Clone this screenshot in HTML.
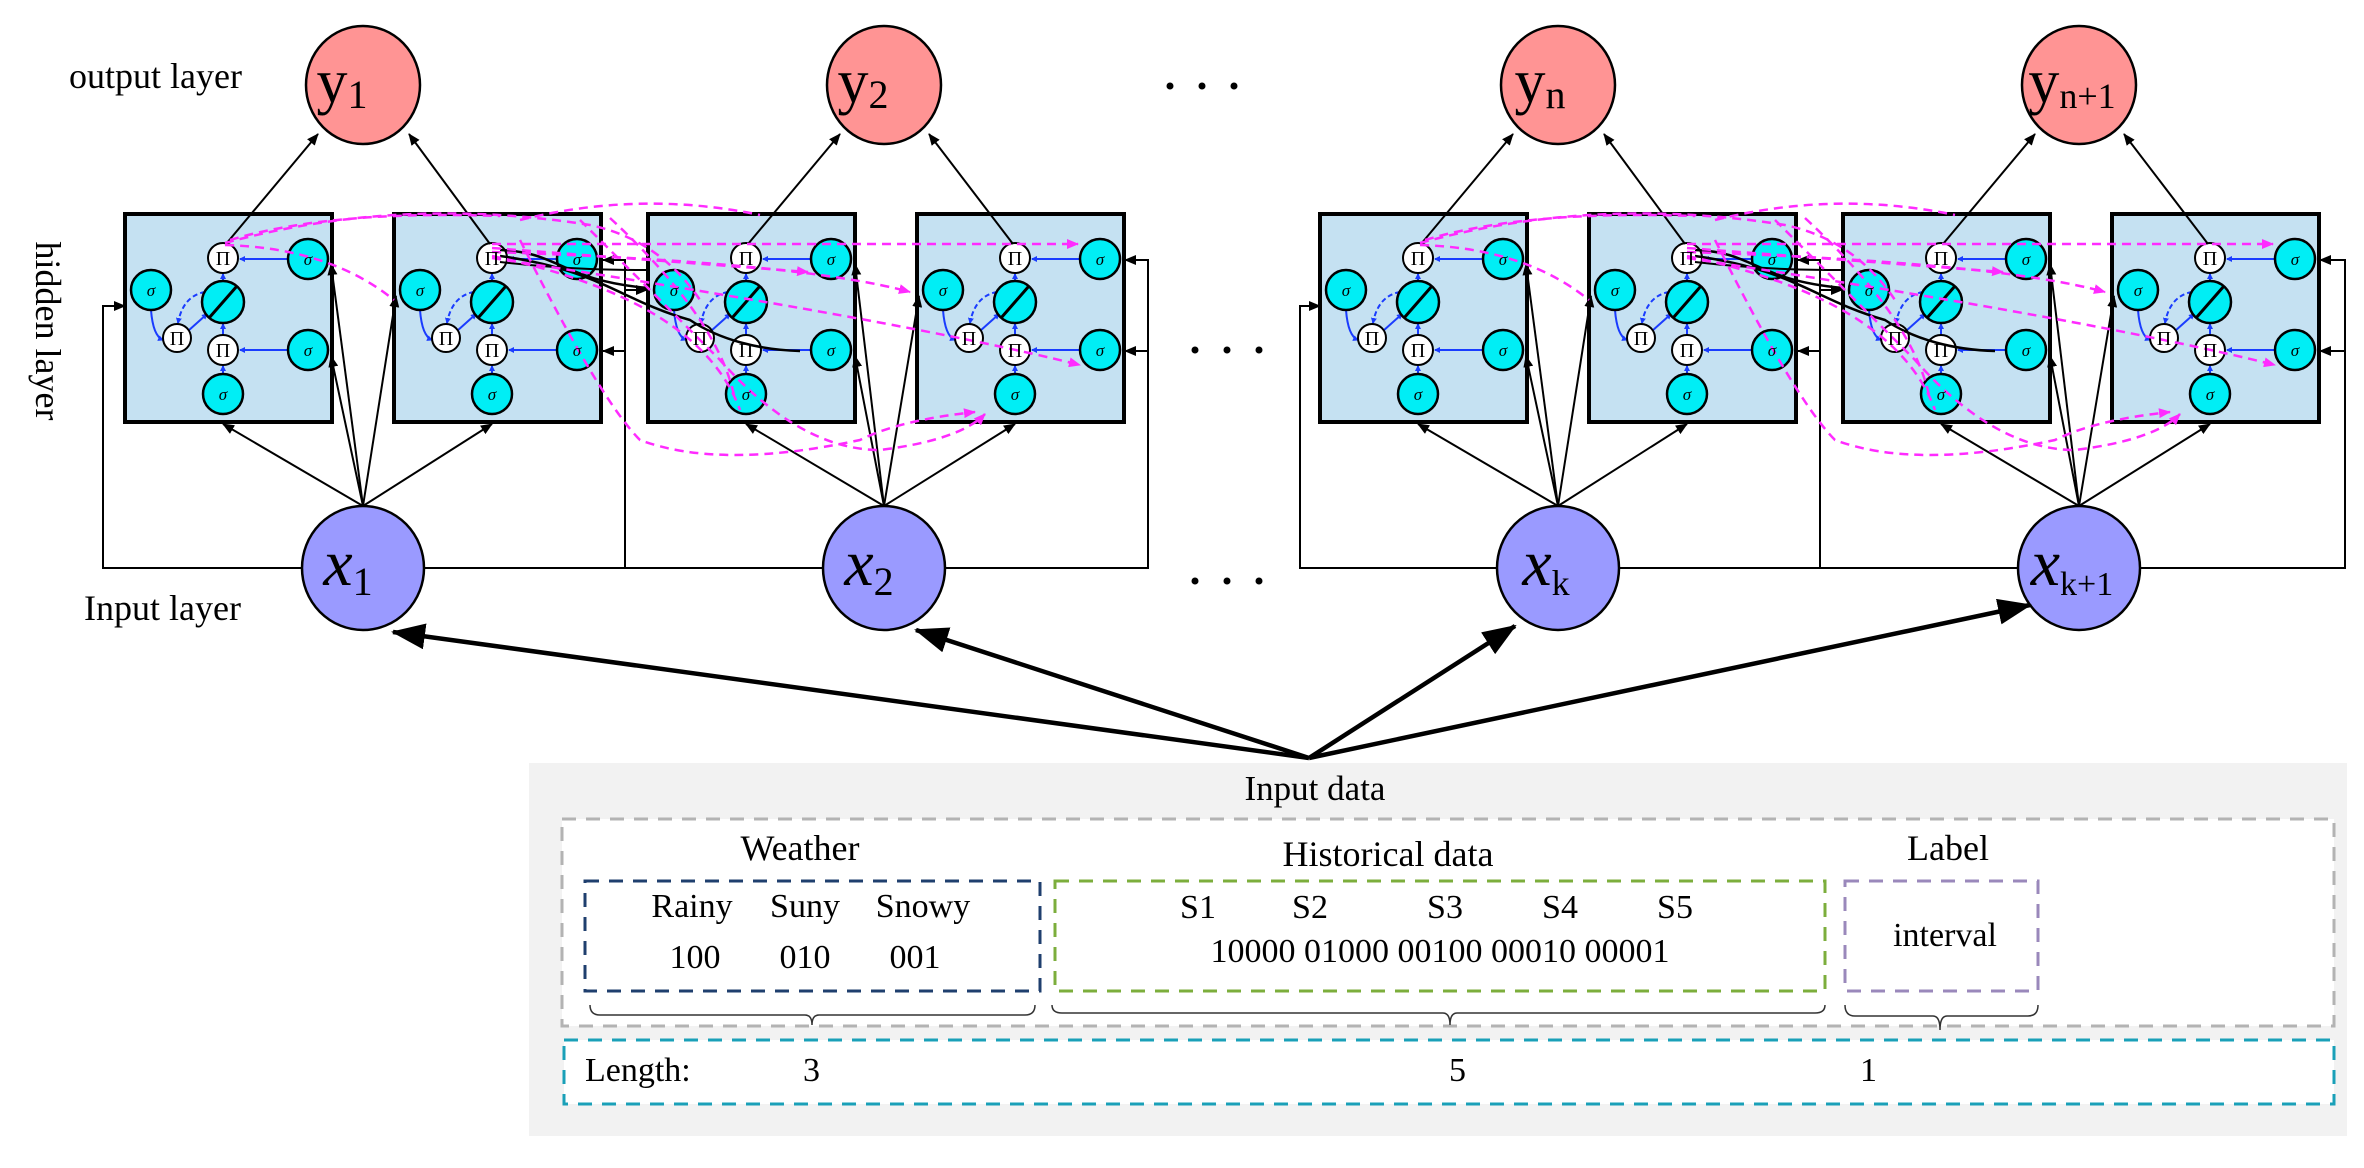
<!DOCTYPE html>
<html><head><meta charset="utf-8"><style>
html,body{margin:0;padding:0;background:#fff;}
svg{display:block;font-family:"Liberation Serif",serif;}
.bx{fill:#c5e1f2;stroke:#000;stroke-width:4}
.sg{fill:#00eef5;stroke:#000;stroke-width:2.5}
.pi{fill:#fff;stroke:#000;stroke-width:2}
.bl{stroke:#1a3cff;stroke-width:2;fill:none}
.st{font-size:17px;font-style:italic;text-anchor:middle}
.pt{font-size:20px;text-anchor:middle}
.mg{stroke:#ff2bff;stroke-width:2.5;fill:none;stroke-dasharray:9,6}
.k{stroke:#000;stroke-width:2;fill:none}
</style></head><body>
<svg width="2364" height="1168" viewBox="0 0 2364 1168" xmlns="http://www.w3.org/2000/svg">
<defs>
<marker id="ba" markerWidth="6" markerHeight="6" refX="5" refY="3" orient="auto" markerUnits="userSpaceOnUse"><path d="M0,0 L6,3 L0,6 z" fill="#1a3cff"/></marker>
<marker id="ka" markerWidth="12" markerHeight="10" refX="11" refY="5" orient="auto" markerUnits="userSpaceOnUse"><path d="M0,0 L12,5 L0,10 z" fill="#000"/></marker>
<marker id="ma" markerWidth="12" markerHeight="10" refX="11" refY="5" orient="auto" markerUnits="userSpaceOnUse"><path d="M0,0 L12,5 L0,10 z" fill="#ff2bff"/></marker>
<marker id="big" markerWidth="34" markerHeight="26" refX="32" refY="13" orient="auto" markerUnits="userSpaceOnUse"><path d="M0,0 L34,13 L0,26 z" fill="#000"/></marker>
<g id="cellshape">
<rect class="bx" x="0" y="0" width="207" height="208"/>
<g class="bl">
<line x1="163" y1="45" x2="115" y2="45" marker-end="url(#ba)"/>
<line x1="163" y1="136" x2="115" y2="136" marker-end="url(#ba)"/>
<line x1="98" y1="160" x2="98" y2="152" marker-end="url(#ba)"/>
<line x1="98" y1="121" x2="98" y2="110" marker-end="url(#ba)"/>
<line x1="98" y1="67" x2="98" y2="60" marker-end="url(#ba)"/>
<path d="M26,96 Q28,122 38,126" marker-end="url(#ba)"/>
<path d="M63,117 L82,100" marker-end="url(#ba)"/>
<path d="M80,78 Q58,82 53,109" stroke-dasharray="5,3" marker-end="url(#ba)"/>
</g>
<circle class="pi" cx="98" cy="44" r="15"/>
<circle class="sg" cx="183" cy="45" r="20"/>
<circle class="sg" cx="26" cy="76" r="20"/>
<circle class="sg" cx="98" cy="88" r="21"/>
<line x1="84" y1="104" x2="112" y2="72" stroke="#000" stroke-width="3"/>
<circle class="pi" cx="52" cy="124" r="14"/>
<circle class="pi" cx="98" cy="136" r="15"/>
<circle class="sg" cx="183" cy="136" r="20"/>
<circle class="sg" cx="98" cy="180" r="20"/>
</g>
</defs>

<!-- Group 1 -->
<g id="g1">
<!-- feedback lines -->
<path class="k" d="M302,568 L103,568 L103,306 L125,306" marker-end="url(#ka)"/>
<path class="k" d="M424,568 L823,568"/>
<path class="k" d="M625,568 L625,260 L603,260" marker-end="url(#ka)"/>
<path class="k" d="M625,351 L603,351" marker-end="url(#ka)"/>
<path class="k" d="M625,290 L647,290" marker-end="url(#ka)"/>
<path class="k" d="M945,568 L1148,568 L1148,260 L1125,260" marker-end="url(#ka)"/>
<path class="k" d="M1148,351 L1125,351" marker-end="url(#ka)"/>
<!-- cells -->
<use href="#cellshape" transform="translate(125,214)"/>
<use href="#cellshape" transform="translate(394,214)"/>
<use href="#cellshape" transform="translate(648,214)"/>
<use href="#cellshape" transform="translate(917,214)"/>
<!-- input connectors -->
<g class="k">
<line x1="363" y1="506" x2="223" y2="424" marker-end="url(#ka)"/>
<line x1="363" y1="506" x2="492" y2="424" marker-end="url(#ka)"/>
<line x1="363" y1="506" x2="331" y2="264" marker-end="url(#ka)"/>
<line x1="363" y1="506" x2="331" y2="356" marker-end="url(#ka)"/>
<line x1="363" y1="506" x2="396" y2="296" marker-end="url(#ka)"/>
<line x1="884" y1="506" x2="746" y2="424" marker-end="url(#ka)"/>
<line x1="884" y1="506" x2="1015" y2="424" marker-end="url(#ka)"/>
<line x1="884" y1="506" x2="855" y2="264" marker-end="url(#ka)"/>
<line x1="884" y1="506" x2="855" y2="356" marker-end="url(#ka)"/>
<line x1="884" y1="506" x2="919" y2="296" marker-end="url(#ka)"/>
<!-- outputs -->
<line x1="226" y1="244" x2="318" y2="134" marker-end="url(#ka)"/>
<line x1="490" y1="244" x2="409" y2="134" marker-end="url(#ka)"/>
<line x1="748" y1="244" x2="840" y2="134" marker-end="url(#ka)"/>
<line x1="1013" y1="244" x2="929" y2="134" marker-end="url(#ka)"/>
<!-- black curves -->
<path d="M500,250 C560,252 560,280 648,288" stroke-width="2.5"/>
<path d="M500,256 C600,270 620,300 690,320 C720,340 760,350 800,351" stroke-width="2.5"/>
<path d="M500,262 C570,270 620,270 650,270"/>
</g>
<!-- magenta dashed -->
<g class="mg">
<path d="M225,243 Q400,195 590,225 Q660,240 700,300"/>
<path d="M225,245 Q330,248 394,300"/>
<path d="M230,240 Q330,210 500,216"/>
<path d="M492,244 L1078,244" marker-end="url(#ma)"/>
<path d="M492,248 L808,272" marker-end="url(#ma)"/>
<path d="M492,252 Q800,262 910,292" marker-end="url(#ma)"/>
<path d="M492,256 Q700,300 740,410"/>
<path d="M520,240 Q600,400 640,440 Q720,470 860,440 Q900,420 975,412" marker-end="url(#ma)"/>
<path d="M580,220 Q660,300 720,360 Q800,450 880,450 Q960,440 985,414" marker-end="url(#ma)"/>
<path d="M492,258 Q900,320 1080,365" marker-end="url(#ma)"/>
<path d="M520,220 Q640,190 760,215"/>
<path d="M610,218 Q720,320 735,400"/>
</g>
</g>

<!-- Group 2 -->
<g transform="translate(1195,0)">
<path class="k" d="M302,568 L105,568 L105,306 L125,306" marker-end="url(#ka)"/>
<path class="k" d="M424,568 L823,568"/>
<path class="k" d="M625,568 L625,260 L603,260" marker-end="url(#ka)"/>
<path class="k" d="M625,351 L603,351" marker-end="url(#ka)"/>
<path class="k" d="M625,290 L647,290" marker-end="url(#ka)"/>
<path class="k" d="M945,568 L1150,568 L1150,260 L1125,260" marker-end="url(#ka)"/>
<path class="k" d="M1150,351 L1125,351" marker-end="url(#ka)"/>
<use href="#cellshape" transform="translate(125,214)"/>
<use href="#cellshape" transform="translate(394,214)"/>
<use href="#cellshape" transform="translate(648,214)"/>
<use href="#cellshape" transform="translate(917,214)"/>
<g class="k">
<line x1="363" y1="506" x2="223" y2="424" marker-end="url(#ka)"/>
<line x1="363" y1="506" x2="492" y2="424" marker-end="url(#ka)"/>
<line x1="363" y1="506" x2="331" y2="264" marker-end="url(#ka)"/>
<line x1="363" y1="506" x2="331" y2="356" marker-end="url(#ka)"/>
<line x1="363" y1="506" x2="396" y2="296" marker-end="url(#ka)"/>
<line x1="884" y1="506" x2="746" y2="424" marker-end="url(#ka)"/>
<line x1="884" y1="506" x2="1015" y2="424" marker-end="url(#ka)"/>
<line x1="884" y1="506" x2="855" y2="264" marker-end="url(#ka)"/>
<line x1="884" y1="506" x2="855" y2="356" marker-end="url(#ka)"/>
<line x1="884" y1="506" x2="919" y2="296" marker-end="url(#ka)"/>
<line x1="226" y1="244" x2="318" y2="134" marker-end="url(#ka)"/>
<line x1="490" y1="244" x2="409" y2="134" marker-end="url(#ka)"/>
<line x1="748" y1="244" x2="840" y2="134" marker-end="url(#ka)"/>
<line x1="1013" y1="244" x2="929" y2="134" marker-end="url(#ka)"/>
<path d="M500,250 C560,252 560,280 648,288" stroke-width="2.5"/>
<path d="M500,256 C600,270 620,300 690,320 C720,340 760,350 800,351" stroke-width="2.5"/>
<path d="M500,262 C570,270 620,270 650,270"/>
</g>
<g class="mg">
<path d="M225,243 Q400,195 590,225 Q660,240 700,300"/>
<path d="M225,245 Q330,248 394,300"/>
<path d="M230,240 Q330,210 500,216"/>
<path d="M492,244 L1078,244" marker-end="url(#ma)"/>
<path d="M492,248 L808,272" marker-end="url(#ma)"/>
<path d="M492,252 Q800,262 910,292" marker-end="url(#ma)"/>
<path d="M492,256 Q700,300 740,410"/>
<path d="M520,240 Q600,400 640,440 Q720,470 860,440 Q900,420 975,412" marker-end="url(#ma)"/>
<path d="M580,220 Q660,300 720,360 Q800,450 880,450 Q960,440 985,414" marker-end="url(#ma)"/>
<path d="M492,258 Q900,320 1080,365" marker-end="url(#ma)"/>
<path d="M520,220 Q640,190 760,215"/>
<path d="M610,218 Q720,320 735,400"/>
</g>
</g>

<!-- cell text labels -->
<g>
<g transform="translate(125,214)"><text class="pt" x="98" y="51">Π</text><text class="st" x="183" y="51">σ</text><text class="st" x="26" y="82">σ</text><text class="pt" x="52" y="131">Π</text><text class="pt" x="98" y="143">Π</text><text class="st" x="183" y="142">σ</text><text class="st" x="98" y="186">σ</text></g>
<g transform="translate(394,214)"><text class="pt" x="98" y="51">Π</text><text class="st" x="183" y="51">σ</text><text class="st" x="26" y="82">σ</text><text class="pt" x="52" y="131">Π</text><text class="pt" x="98" y="143">Π</text><text class="st" x="183" y="142">σ</text><text class="st" x="98" y="186">σ</text></g>
<g transform="translate(648,214)"><text class="pt" x="98" y="51">Π</text><text class="st" x="183" y="51">σ</text><text class="st" x="26" y="82">σ</text><text class="pt" x="52" y="131">Π</text><text class="pt" x="98" y="143">Π</text><text class="st" x="183" y="142">σ</text><text class="st" x="98" y="186">σ</text></g>
<g transform="translate(917,214)"><text class="pt" x="98" y="51">Π</text><text class="st" x="183" y="51">σ</text><text class="st" x="26" y="82">σ</text><text class="pt" x="52" y="131">Π</text><text class="pt" x="98" y="143">Π</text><text class="st" x="183" y="142">σ</text><text class="st" x="98" y="186">σ</text></g>
<g transform="translate(1320,214)"><text class="pt" x="98" y="51">Π</text><text class="st" x="183" y="51">σ</text><text class="st" x="26" y="82">σ</text><text class="pt" x="52" y="131">Π</text><text class="pt" x="98" y="143">Π</text><text class="st" x="183" y="142">σ</text><text class="st" x="98" y="186">σ</text></g>
<g transform="translate(1589,214)"><text class="pt" x="98" y="51">Π</text><text class="st" x="183" y="51">σ</text><text class="st" x="26" y="82">σ</text><text class="pt" x="52" y="131">Π</text><text class="pt" x="98" y="143">Π</text><text class="st" x="183" y="142">σ</text><text class="st" x="98" y="186">σ</text></g>
<g transform="translate(1843,214)"><text class="pt" x="98" y="51">Π</text><text class="st" x="183" y="51">σ</text><text class="st" x="26" y="82">σ</text><text class="pt" x="52" y="131">Π</text><text class="pt" x="98" y="143">Π</text><text class="st" x="183" y="142">σ</text><text class="st" x="98" y="186">σ</text></g>
<g transform="translate(2112,214)"><text class="pt" x="98" y="51">Π</text><text class="st" x="183" y="51">σ</text><text class="st" x="26" y="82">σ</text><text class="pt" x="52" y="131">Π</text><text class="pt" x="98" y="143">Π</text><text class="st" x="183" y="142">σ</text><text class="st" x="98" y="186">σ</text></g>
</g>

<!-- output circles -->
<g fill="#ff9494" stroke="#000" stroke-width="2.5">
<ellipse cx="363" cy="85" rx="57" ry="59"/>
<ellipse cx="884" cy="85" rx="57" ry="59"/>
<ellipse cx="1558" cy="85" rx="57" ry="59"/>
<ellipse cx="2079" cy="85" rx="57" ry="59"/>
</g>
<g font-size="62">
<text x="342" y="102" text-anchor="middle">y<tspan font-size="40" dy="6">1</tspan></text>
<text x="863" y="102" text-anchor="middle">y<tspan font-size="40" dy="6">2</tspan></text>
<text x="1540" y="102" text-anchor="middle">y<tspan font-size="40" dy="6">n</tspan></text>
<text x="2072" y="102" text-anchor="middle">y<tspan font-size="36" dy="6">n+1</tspan></text>
</g>
<!-- input circles -->
<g fill="#9a9aff" stroke="#000" stroke-width="2.5">
<ellipse cx="363" cy="568" rx="61" ry="62"/>
<ellipse cx="884" cy="568" rx="61" ry="62"/>
<ellipse cx="1558" cy="568" rx="61" ry="62"/>
<ellipse cx="2079" cy="568" rx="61" ry="62"/>
</g>
<g font-size="66" font-style="italic">
<text x="348" y="585" text-anchor="middle">x<tspan font-size="40" font-style="normal" dy="10">1</tspan></text>
<text x="869" y="585" text-anchor="middle">x<tspan font-size="40" font-style="normal" dy="10">2</tspan></text>
<text x="1546" y="585" text-anchor="middle">x<tspan font-size="36" font-style="normal" dy="10">k</tspan></text>
<text x="2072" y="585" text-anchor="middle">x<tspan font-size="34" font-style="normal" dy="10">k+1</tspan></text>
</g>

<!-- dots -->
<g fill="#000">
<circle cx="1170" cy="86" r="3.5"/><circle cx="1202" cy="86" r="3.5"/><circle cx="1234" cy="86" r="3.5"/>
<circle cx="1195" cy="350" r="3.5"/><circle cx="1227" cy="350" r="3.5"/><circle cx="1259" cy="350" r="3.5"/>
<circle cx="1195" cy="581" r="3.5"/><circle cx="1227" cy="581" r="3.5"/><circle cx="1259" cy="581" r="3.5"/>
</g>

<!-- layer labels -->
<text x="69" y="88" font-size="36">output layer</text>
<text x="84" y="620" font-size="36">Input layer</text>
<text transform="translate(36,331) rotate(90)" font-size="36" text-anchor="middle">hidden layer</text>

<!-- big arrows -->
<g stroke="#000" stroke-width="4.5" fill="none">
<line x1="1309" y1="758" x2="393" y2="632" marker-end="url(#big)"/>
<line x1="1309" y1="758" x2="916" y2="630" marker-end="url(#big)"/>
<line x1="1309" y1="758" x2="1515" y2="626" marker-end="url(#big)"/>
<line x1="1309" y1="758" x2="2030" y2="605" marker-end="url(#big)"/>
</g>

<!-- bottom panel -->
<rect x="529" y="763" width="1818" height="373" fill="#f2f2f2"/>
<text x="1315" y="800" font-size="35" text-anchor="middle">Input data</text>
<rect x="562" y="819" width="1772" height="207" fill="#fff" stroke="#b3b3b3" stroke-width="3" stroke-dasharray="14,10"/>
<text x="800" y="860" font-size="36" text-anchor="middle">Weather</text>
<text x="1388" y="866" font-size="36" text-anchor="middle">Historical data</text>
<text x="1948" y="860" font-size="36" text-anchor="middle">Label</text>
<rect x="585" y="881" width="455" height="110" fill="none" stroke="#1f3f6e" stroke-width="3" stroke-dasharray="14,10"/>
<rect x="1055" y="881" width="770" height="110" fill="none" stroke="#7cae3c" stroke-width="3" stroke-dasharray="14,10"/>
<rect x="1845" y="881" width="193" height="110" fill="none" stroke="#9a88bb" stroke-width="3" stroke-dasharray="14,10"/>
<g font-size="34" text-anchor="middle">
<text x="692" y="917">Rainy</text><text x="805" y="917">Suny</text><text x="923" y="917">Snowy</text>
<text x="695" y="968">100</text><text x="805" y="968">010</text><text x="915" y="968">001</text>
<text x="1198" y="918">S1</text><text x="1310" y="918">S2</text><text x="1445" y="918">S3</text><text x="1560" y="918">S4</text><text x="1675" y="918">S5</text>
<text x="1440" y="962">10000 01000 00100 00010 00001</text>
<text x="1945" y="946">interval</text>
</g>
<g stroke="#333" stroke-width="1.5" fill="none">
<path d="M590,1005 Q590,1015 600,1015 L805,1015 Q812,1015 812,1025 Q812,1015 819,1015 L1025,1015 Q1035,1015 1035,1005"/>
<path d="M1052,1005 Q1052,1013 1062,1013 L1443,1013 Q1450,1013 1450,1025 Q1450,1013 1457,1013 L1815,1013 Q1825,1013 1825,1005"/>
<path d="M1845,1005 Q1845,1016 1855,1016 L1933,1016 Q1940,1016 1940,1030 Q1940,1016 1947,1016 L2028,1016 Q2038,1016 2038,1005"/>
</g>
<rect x="564" y="1040" width="1770" height="64" fill="#fff" stroke="#1aa0b8" stroke-width="3" stroke-dasharray="14,10"/>
<g font-size="34">
<text x="585" y="1081">Length:</text>
<text x="803" y="1081">3</text>
<text x="1449" y="1081">5</text>
<text x="1860" y="1081">1</text>
</g>
</svg>
</body></html>
